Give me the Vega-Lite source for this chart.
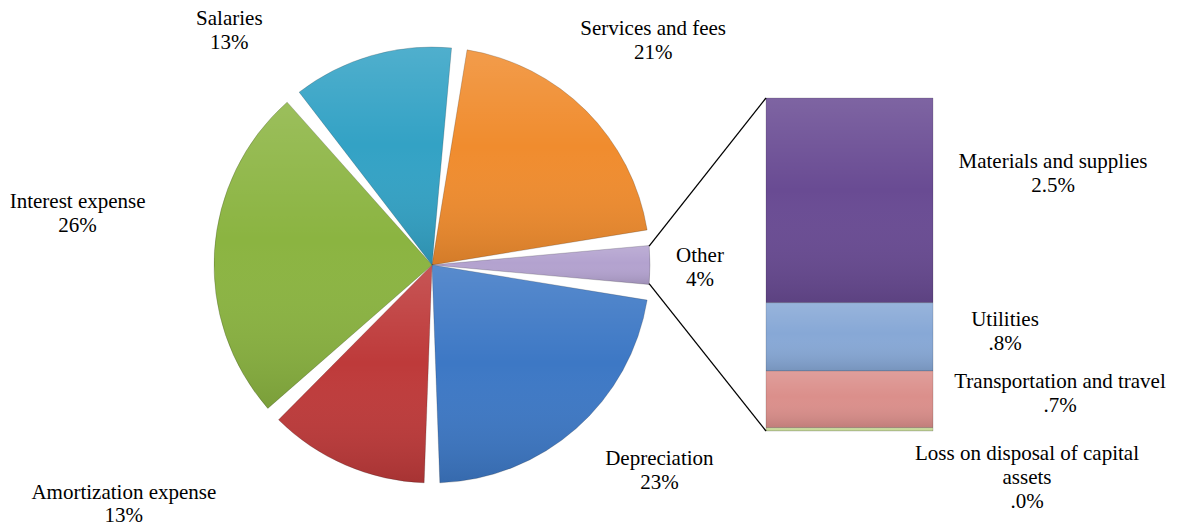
{
  "$schema": "https://vega.github.io/schema/vega-lite/v6.json",
  "width": 1178,
  "height": 527,
  "autosize": "none",
  "padding": 0,
  "background": "white",
  "config": {"view": {"stroke": null}},
  "datasets": {
    "main": [
      {"category": "Services and fees", "pct": 21, "order": 1, "label": "Services and fees\n21%"},
      {"category": "Other", "pct": 4, "order": 2, "label": "Other\n4%"},
      {"category": "Depreciation", "pct": 23, "order": 3, "label": "Depreciation\n23%"},
      {"category": "Amortization expense", "pct": 13, "order": 4, "label": "Amortization expense\n13%"},
      {"category": "Interest expense", "pct": 26, "order": 5, "label": "Interest expense\n26%"},
      {"category": "Salaries", "pct": 13, "order": 6, "label": "Salaries\n13%"}
    ],
    "other": [
      {"category": "Materials and supplies", "pct": 2.46, "order": 4, "label": "Materials and supplies\n2.5%"},
      {"category": "Utilities", "pct": 0.82, "order": 3, "label": "Utilities\n.8%"},
      {"category": "Transportation and travel", "pct": 0.68, "order": 2, "label": "Transportation and travel\n.7%"},
      {"category": "Loss on disposal of capital assets", "pct": 0.04, "order": 1, "label": "Loss on disposal of capital\nassets\n.0%"}
    ]
  },
  "layer": [
    {
      "data": {"name": "main"},
      "mark": {"type": "arc", "x": 432, "y": 265, "outerRadius": 218, "padAngle": 0.072, "stroke": "#000000", "strokeOpacity": 0.18, "strokeWidth": 1},
      "encoding": {
        "theta": {"field": "pct", "type": "quantitative", "stack": true, "scale": {"range": [0.1257, 6.4089]}},
        "order": {"field": "order", "type": "quantitative"},
        "color": {
          "field": "category", "type": "nominal", "legend": null,
          "scale": {
            "domain": ["Services and fees", "Other", "Depreciation", "Amortization expense", "Interest expense", "Salaries", "Materials and supplies", "Utilities", "Transportation and travel", "Loss on disposal of capital assets"],
            "range": ["#F08C2E", "#B3A2CF", "#3D78C5", "#BE3A3A", "#8BB441", "#33A2C5", "#694B93", "#87A8D6", "#DB8F8B", "#C8DB9A"]
          }
        }
      }
    },
    {
      "data": {"name": "main"},
      "mark": {
        "type": "arc", "x": 432, "y": 265, "outerRadius": 218, "padAngle": 0.072,
        "fill": {"gradient": "linear", "x1": 0, "y1": 0, "x2": 0, "y2": 1, "stops": [{"offset": 0, "color": "rgba(255,255,255,0.14)"}, {"offset": 0.45, "color": "rgba(255,255,255,0)"}, {"offset": 1, "color": "rgba(0,0,0,0.12)"}]}
      },
      "encoding": {
        "theta": {"field": "pct", "type": "quantitative", "stack": true},
        "order": {"field": "order", "type": "quantitative"}
      }
    },
    {
      "data": {"name": "main"},
      "mark": {"type": "text", "x": 432, "y": 265, "radius": 300, "align": "center", "baseline": "alphabetic", "font": "Liberation Serif", "fontSize": 21, "lineHeight": 24, "lineBreak": "\n", "color": "black", "dx": 9, "dy": -18},
      "encoding": {
        "theta": {"field": "pct", "type": "quantitative", "stack": true},
        "order": {"field": "order", "type": "quantitative"},
        "text": {"field": "label", "type": "nominal"},
        "opacity": {"condition": {"test": "datum.category === 'Services and fees'", "value": 1}, "value": 0}
      }
    },
    {
      "data": {"name": "main"},
      "mark": {"type": "text", "x": 432, "y": 265, "radius": 300, "align": "center", "baseline": "alphabetic", "font": "Liberation Serif", "fontSize": 21, "lineHeight": 24, "lineBreak": "\n", "color": "black", "dx": -119, "dy": 48},
      "encoding": {
        "theta": {"field": "pct", "type": "quantitative", "stack": true},
        "order": {"field": "order", "type": "quantitative"},
        "text": {"field": "label", "type": "nominal"},
        "opacity": {"condition": {"test": "datum.category === 'Salaries'", "value": 1}, "value": 0}
      }
    },
    {
      "data": {"name": "main"},
      "mark": {"type": "text", "x": 432, "y": 265, "radius": 300, "align": "center", "baseline": "alphabetic", "font": "Liberation Serif", "fontSize": 21, "lineHeight": 24, "lineBreak": "\n", "color": "black", "dx": -55, "dy": -38},
      "encoding": {
        "theta": {"field": "pct", "type": "quantitative", "stack": true},
        "order": {"field": "order", "type": "quantitative"},
        "text": {"field": "label", "type": "nominal"},
        "opacity": {"condition": {"test": "datum.category === 'Interest expense'", "value": 1}, "value": 0}
      }
    },
    {
      "data": {"name": "main"},
      "mark": {"type": "text", "x": 432, "y": 265, "radius": 300, "align": "center", "baseline": "alphabetic", "font": "Liberation Serif", "fontSize": 21, "lineHeight": 24, "lineBreak": "\n", "color": "black", "dx": -32, "dy": -3},
      "encoding": {
        "theta": {"field": "pct", "type": "quantitative", "stack": true},
        "order": {"field": "order", "type": "quantitative"},
        "text": {"field": "label", "type": "nominal"},
        "opacity": {"condition": {"test": "datum.category === 'Other'", "value": 1}, "value": 0}
      }
    },
    {
      "data": {"name": "main"},
      "mark": {"type": "text", "x": 432, "y": 265, "radius": 300, "align": "center", "baseline": "alphabetic", "font": "Liberation Serif", "fontSize": 21, "lineHeight": 24, "lineBreak": "\n", "color": "black", "dx": 29, "dy": -25},
      "encoding": {
        "theta": {"field": "pct", "type": "quantitative", "stack": true},
        "order": {"field": "order", "type": "quantitative"},
        "text": {"field": "label", "type": "nominal"},
        "opacity": {"condition": {"test": "datum.category === 'Depreciation'", "value": 1}, "value": 0}
      }
    },
    {
      "data": {"name": "main"},
      "mark": {"type": "text", "x": 432, "y": 265, "radius": 300, "align": "center", "baseline": "alphabetic", "font": "Liberation Serif", "fontSize": 21, "lineHeight": 23, "lineBreak": "\n", "color": "black", "dx": -189, "dy": -41},
      "encoding": {
        "theta": {"field": "pct", "type": "quantitative", "stack": true},
        "order": {"field": "order", "type": "quantitative"},
        "text": {"field": "label", "type": "nominal"},
        "opacity": {"condition": {"test": "datum.category === 'Amortization expense'", "value": 1}, "value": 0}
      }
    },
    {
      "data": {"name": "other"},
      "transform": [{"stack": "pct", "groupby": [], "sort": [{"field": "order"}], "as": ["lo", "hi"]}],
      "mark": {"type": "bar", "stroke": "#000000", "strokeOpacity": 0.15, "strokeWidth": 1},
      "encoding": {
        "x": {"datum": 0, "type": "quantitative", "scale": {"domain": [0, 1], "range": [766, 933], "nice": false, "zero": false}, "axis": null},
        "x2": {"datum": 1},
        "y": {"field": "lo", "type": "quantitative", "scale": {"domain": [0, 4], "range": [431, 98], "nice": false}, "axis": null},
        "y2": {"field": "hi"},
        "color": {"field": "category", "type": "nominal", "legend": null}
      }
    },
    {
      "data": {"name": "other"},
      "transform": [{"stack": "pct", "groupby": [], "sort": [{"field": "order"}], "as": ["lo", "hi"]}],
      "mark": {
        "type": "bar",
        "fill": {"gradient": "linear", "x1": 0, "y1": 0, "x2": 0, "y2": 1, "stops": [{"offset": 0, "color": "rgba(255,255,255,0.14)"}, {"offset": 0.45, "color": "rgba(255,255,255,0)"}, {"offset": 1, "color": "rgba(0,0,0,0.12)"}]}
      },
      "encoding": {
        "x": {"datum": 0, "type": "quantitative"},
        "x2": {"datum": 1},
        "y": {"field": "lo", "type": "quantitative"},
        "y2": {"field": "hi"}
      }
    },
    {
      "data": {"name": "other"},
      "transform": [{"stack": "pct", "groupby": [], "sort": [{"field": "order"}], "as": ["lo", "hi"]}, {"filter": "datum.category === 'Materials and supplies'"}],
      "mark": {"type": "text", "align": "center", "baseline": "alphabetic", "font": "Liberation Serif", "fontSize": 21, "lineHeight": 24, "lineBreak": "\n", "color": "black", "dx": 120, "dy": 70},
      "encoding": {
        "x": {"datum": 1, "type": "quantitative"},
        "y": {"field": "hi", "type": "quantitative"},
        "text": {"field": "label", "type": "nominal"}
      }
    },
    {
      "data": {"name": "other"},
      "transform": [{"stack": "pct", "groupby": [], "sort": [{"field": "order"}], "as": ["lo", "hi"]}, {"filter": "datum.category === 'Utilities'"}],
      "mark": {"type": "text", "align": "center", "baseline": "alphabetic", "font": "Liberation Serif", "fontSize": 21, "lineHeight": 24, "lineBreak": "\n", "color": "black", "dx": 72, "dy": 23},
      "encoding": {
        "x": {"datum": 1, "type": "quantitative"},
        "y": {"field": "hi", "type": "quantitative"},
        "text": {"field": "label", "type": "nominal"}
      }
    },
    {
      "data": {"name": "other"},
      "transform": [{"stack": "pct", "groupby": [], "sort": [{"field": "order"}], "as": ["lo", "hi"]}, {"filter": "datum.category === 'Transportation and travel'"}],
      "mark": {"type": "text", "align": "center", "baseline": "alphabetic", "font": "Liberation Serif", "fontSize": 21, "lineHeight": 24, "lineBreak": "\n", "color": "black", "dx": 127, "dy": 17},
      "encoding": {
        "x": {"datum": 1, "type": "quantitative"},
        "y": {"field": "hi", "type": "quantitative"},
        "text": {"field": "label", "type": "nominal"}
      }
    },
    {
      "data": {"name": "other"},
      "transform": [{"stack": "pct", "groupby": [], "sort": [{"field": "order"}], "as": ["lo", "hi"]}, {"filter": "datum.category === 'Loss on disposal of capital assets'"}],
      "mark": {"type": "text", "align": "center", "baseline": "alphabetic", "font": "Liberation Serif", "fontSize": 21, "lineHeight": 24, "lineBreak": "\n", "color": "black", "dx": 94, "dy": 32},
      "encoding": {
        "x": {"datum": 1, "type": "quantitative"},
        "y": {"field": "hi", "type": "quantitative"},
        "text": {"field": "label", "type": "nominal"}
      }
    },
    {
      "data": {"name": "main"},
      "transform": [{"filter": "datum.category === 'Other'"}],
      "mark": {"type": "rule", "color": "black", "strokeWidth": 1.3},
      "encoding": {
        "x": {"datum": 0, "type": "quantitative"},
        "y": {"field": "pct", "type": "quantitative"},
        "x2": {"datum": -0.70},
        "y2": {"datum": 2.22}
      }
    },
    {
      "data": {"name": "main"},
      "transform": [{"filter": "datum.category === 'Other'"}],
      "mark": {"type": "rule", "color": "black", "strokeWidth": 1.3},
      "encoding": {
        "x": {"datum": 0, "type": "quantitative"},
        "y": {"datum": 0, "type": "quantitative"},
        "x2": {"datum": -0.70},
        "y2": {"datum": 1.77}
      }
    }
  ]
}
